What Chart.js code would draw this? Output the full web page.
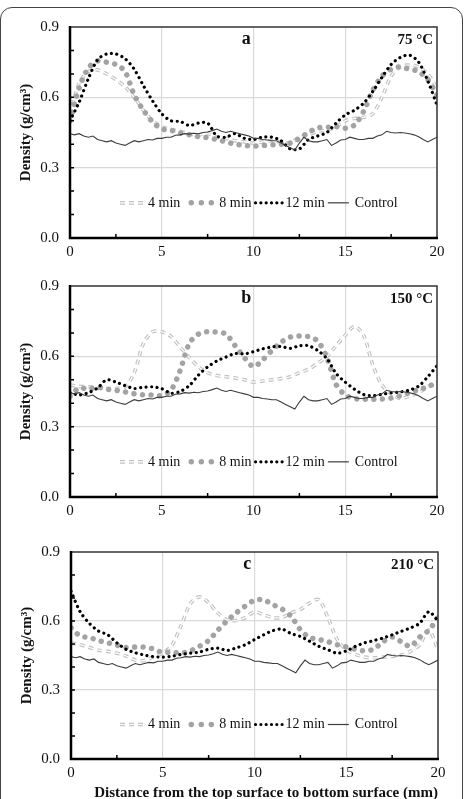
<!DOCTYPE html>
<html>
<head>
<meta charset="utf-8">
<script src="https://cdn.jsdelivr.net/npm/chart.js@4.4.1/dist/chart.umd.min.js"></script>
<style>
  html, body { margin: 0; padding: 0; background: #fff; width: 465px; height: 799px; overflow: hidden; }
  #frame { position: absolute; left: 0; top: 7px; width: 461px; height: 840px; border: 1.5px solid #444; border-radius: 12px; }
  canvas { position: absolute; left: 0; }
</style>
</head>
<body>
<div id="frame"></div>
<canvas id="chartA" width="465" height="265" style="top:0px"></canvas>
<canvas id="chartB" width="465" height="265" style="top:259px"></canvas>
<canvas id="chartC" width="465" height="290" style="top:525px"></canvas>
<script>
// ==========================================
// Data (0.5 mm steps)
// ==========================================
const distance = [0, 0.5, 1, 1.5, 2, 2.5, 3, 3.5, 4, 4.5, 5, 5.5, 6, 6.5, 7, 7.5, 8, 8.5, 9, 9.5,
  10, 10.5, 11, 11.5, 12, 12.5, 13, 13.5, 14, 14.5, 15, 15.5, 16, 16.5, 17, 17.5, 18, 18.5, 19, 19.5, 20];

// control is measured finer (0.25 mm) and is the same curve in all three panels
const controlDistance = [0, 0.25, 0.5, 0.75, 1, 1.25, 1.5, 1.75, 2, 2.25, 2.5, 2.75, 3, 3.25, 3.5, 3.75, 4, 4.25, 4.5, 4.75,
  5, 5.25, 5.5, 5.75, 6, 6.25, 6.5, 6.75, 7, 7.25, 7.5, 7.75, 8, 8.25, 8.5, 8.75, 9, 9.25, 9.5, 9.75,
  10, 10.25, 10.5, 10.75, 11, 11.25, 11.5, 11.75, 12, 12.25, 12.5, 12.75, 13, 13.25, 13.5, 13.75, 14, 14.25, 14.5, 14.75,
  15, 15.25, 15.5, 15.75, 16, 16.25, 16.5, 16.75, 17, 17.25, 17.5, 17.75, 18, 18.25, 18.5, 18.75, 19, 19.25, 19.5, 19.75, 20];
const control = [0.445, 0.44, 0.445, 0.435, 0.43, 0.435, 0.42, 0.415, 0.41, 0.415, 0.405, 0.40, 0.395, 0.405, 0.415, 0.41, 0.415, 0.42, 0.418, 0.425,
  0.425, 0.43, 0.43, 0.438, 0.44, 0.445, 0.443, 0.447, 0.445, 0.45, 0.452, 0.458, 0.465, 0.455, 0.45, 0.455, 0.45, 0.445, 0.44, 0.435,
  0.425, 0.425, 0.42, 0.418, 0.415, 0.415, 0.405, 0.395, 0.385, 0.375, 0.405, 0.43, 0.415, 0.41, 0.41, 0.415, 0.42, 0.395, 0.405, 0.418,
  0.42, 0.43, 0.425, 0.42, 0.42, 0.425, 0.425, 0.435, 0.44, 0.455, 0.45, 0.448, 0.45, 0.448, 0.445, 0.44, 0.432, 0.42, 0.41, 0.42, 0.43];

// a - 75 °C
const a4 = [0.53, 0.66, 0.71, 0.717, 0.70, 0.675, 0.645, 0.60, 0.545, 0.50, 0.475, 0.463, 0.455, 0.445, 0.44, 0.445, 0.43, 0.425, 0.415, 0.41,
  0.405, 0.41, 0.415, 0.41, 0.405, 0.43, 0.44, 0.455, 0.46, 0.475, 0.50, 0.51, 0.515, 0.53, 0.60, 0.69, 0.73, 0.738, 0.73, 0.70, 0.64];
const a8 = [0.50, 0.64, 0.725, 0.755, 0.75, 0.74, 0.71, 0.61, 0.545, 0.495, 0.465, 0.46, 0.448, 0.44, 0.432, 0.428, 0.42, 0.41, 0.40, 0.395,
  0.392, 0.395, 0.397, 0.40, 0.405, 0.425, 0.45, 0.47, 0.472, 0.475, 0.468, 0.482, 0.54, 0.63, 0.69, 0.72, 0.73, 0.72, 0.71, 0.675, 0.61];
const a12 = [0.50, 0.58, 0.68, 0.76, 0.785, 0.785, 0.765, 0.72, 0.65, 0.585, 0.53, 0.50, 0.497, 0.48, 0.49, 0.49, 0.435, 0.43, 0.445, 0.425,
  0.42, 0.43, 0.43, 0.415, 0.38, 0.38, 0.42, 0.435, 0.45, 0.49, 0.525, 0.545, 0.575, 0.625, 0.685, 0.74, 0.77, 0.78, 0.75, 0.67, 0.567];

// b - 150 °C
const b4 = [0.478, 0.472, 0.47, 0.465, 0.463, 0.463, 0.47, 0.53, 0.655, 0.705, 0.705, 0.685, 0.64, 0.595, 0.555, 0.53, 0.518, 0.513, 0.508, 0.50,
  0.49, 0.495, 0.50, 0.505, 0.513, 0.53, 0.545, 0.57, 0.60, 0.645, 0.69, 0.727, 0.69, 0.563, 0.478, 0.44, 0.42, 0.43, 0.445, 0.47, 0.49];
const b8 = [0.43, 0.465, 0.46, 0.468, 0.46, 0.455, 0.448, 0.44, 0.436, 0.435, 0.433, 0.455, 0.54, 0.655, 0.695, 0.705, 0.703, 0.695, 0.645, 0.595,
  0.556, 0.585, 0.625, 0.66, 0.682, 0.687, 0.684, 0.665, 0.595, 0.48, 0.435, 0.42, 0.417, 0.417, 0.418, 0.422, 0.432, 0.445, 0.458, 0.47, 0.49];
const b12 = [0.445, 0.435, 0.445, 0.465, 0.50, 0.49, 0.475, 0.463, 0.468, 0.47, 0.462, 0.443, 0.45, 0.475, 0.52, 0.555, 0.58, 0.597, 0.612, 0.61,
  0.62, 0.632, 0.64, 0.642, 0.634, 0.645, 0.645, 0.625, 0.59, 0.527, 0.49, 0.46, 0.437, 0.432, 0.438, 0.444, 0.448, 0.456, 0.473, 0.513, 0.56];

// c - 210 °C
const c4 = [0.505, 0.497, 0.485, 0.473, 0.468, 0.46, 0.448, 0.43, 0.428, 0.445, 0.46, 0.495, 0.58, 0.675, 0.705, 0.68, 0.635, 0.605, 0.602, 0.615,
  0.64, 0.627, 0.615, 0.615, 0.635, 0.65, 0.678, 0.693, 0.615, 0.52, 0.475, 0.455, 0.443, 0.44, 0.443, 0.446, 0.452, 0.468, 0.497, 0.56, 0.475];
const c8 = [0.57, 0.535, 0.528, 0.515, 0.505, 0.495, 0.485, 0.487, 0.487, 0.478, 0.463, 0.465, 0.46, 0.47, 0.49, 0.515, 0.56, 0.60, 0.635, 0.665,
  0.69, 0.692, 0.671, 0.652, 0.62, 0.562, 0.528, 0.52, 0.51, 0.497, 0.487, 0.477, 0.47, 0.478, 0.51, 0.53, 0.51, 0.49, 0.53, 0.56, 0.615];
const c12 = [0.73, 0.64, 0.59, 0.556, 0.54, 0.505, 0.477, 0.462, 0.452, 0.445, 0.443, 0.447, 0.455, 0.46, 0.465, 0.477, 0.482, 0.472, 0.483, 0.497,
  0.519, 0.54, 0.558, 0.565, 0.545, 0.533, 0.512, 0.49, 0.475, 0.46, 0.47, 0.49, 0.505, 0.515, 0.526, 0.54, 0.555, 0.57, 0.59, 0.64, 0.60];

const xTicks = [0, 5, 10, 15, 20];
const yTicks = [0, 0.3, 0.6, 0.9];
const xMinor = [2.5, 7.5, 12.5, 17.5];
const yMinor = [0.1, 0.2, 0.3, 0.4, 0.5, 0.6, 0.7, 0.8];
const legendLabels = ['4 min', '8 min', '12 min', 'Control'];

const SERIF = '"Liberation Serif", "Times New Roman", serif';
const DASH4 = [5, 4];

// ==========================================
// Helpers
// ==========================================
function pts(xs, values) {
  return xs.map((d, i) => ({ x: d, y: values[i] }));
}

function strokeSample(ctx, x0, x1, y, color, width, dash, cap) {
  ctx.save();
  ctx.strokeStyle = color;
  ctx.lineWidth = width;
  ctx.setLineDash(dash);
  ctx.lineCap = cap;
  ctx.beginPath();
  ctx.moveTo(x0, y);
  ctx.lineTo(x1, y);
  ctx.stroke();
  ctx.restore();
}

// frame, minor ticks, panel letter, temperature, legend
const decorPlugin = {
  id: 'decor',
  afterDraw(chart) {
    const ctx = chart.ctx;
    const { left, right, top, bottom } = chart.chartArea;
    const xs = chart.scales.x, ys = chart.scales.y;
    const cfg = chart.options.plugins.decor;

    ctx.save();
    // frame
    ctx.strokeStyle = '#333';
    ctx.lineWidth = 1.5;
    ctx.beginPath();
    ctx.moveTo(left, top); ctx.lineTo(right, top); ctx.lineTo(right, bottom);
    ctx.stroke();
    ctx.strokeStyle = '#000';
    ctx.lineWidth = 2.5;
    ctx.beginPath();
    ctx.moveTo(left, top - 1); ctx.lineTo(left, bottom); ctx.lineTo(right + 1, bottom);
    ctx.stroke();

    // small inside ticks
    ctx.lineWidth = 1.5;
    ctx.beginPath();
    yMinor.forEach(v => {
      const py = ys.getPixelForValue(v);
      ctx.moveTo(left, py); ctx.lineTo(left + 4, py);
    });
    xMinor.forEach(v => {
      const px = xs.getPixelForValue(v);
      ctx.moveTo(px, bottom); ctx.lineTo(px, bottom - 4);
    });
    ctx.stroke();

    // panel letter + temperature
    ctx.fillStyle = '#111';
    ctx.textBaseline = 'middle';
    ctx.textAlign = 'center';
    ctx.font = 'bold 18px ' + SERIF;
    ctx.fillText(cfg.letter, xs.getPixelForValue(9.6), top + 12);
    ctx.textAlign = 'right';
    ctx.font = 'bold 15px ' + SERIF;
    ctx.fillText(cfg.temp, right - 4, top + 13);

    // legend
    const y = ys.getPixelForValue(0.15);
    ctx.font = '14px ' + SERIF;
    ctx.textAlign = 'left';
    let x = 120;
    strokeSample(ctx, x, x + 27, y, '#c3c3c3', 3.6, DASH4, 'butt');
    strokeSample(ctx, x, x + 27, y, '#fff', 1.2, DASH4, 'butt');
    x += 28;
    ctx.fillText(legendLabels[0], x, y);
    x += ctx.measureText(legendLabels[0]).width + 8;
    strokeSample(ctx, x + 3, x + 24, y, '#a3a3a3', 5.5, [0.01, 10], 'round');
    x += 31;
    ctx.fillText(legendLabels[1], x, y);
    x += ctx.measureText(legendLabels[1]).width + 2;
    strokeSample(ctx, x + 2, x + 29, y, '#000', 3.2, [0.01, 5.3], 'round');
    x += 32;
    ctx.fillText(legendLabels[2], x, y);
    x += ctx.measureText(legendLabels[2]).width + 3;
    strokeSample(ctx, x, x + 21, y, '#3c3c3c', 1.2, [], 'butt');
    x += 27;
    ctx.fillText(legendLabels[3], x, y);
    ctx.restore();
  }
};

// ==========================================
// Panel builder
// ==========================================
function makePanel(id, d4, d8, d12, letter, temp, o) {
  const common = { pointRadius: 0, fill: false, tension: 0.3 };
  return new Chart(document.getElementById(id), {
    type: 'line',
    data: {
      datasets: [
        { ...common, label: legendLabels[0], data: pts(distance, d4), borderColor: '#c3c3c3', borderWidth: 3.6, borderDash: DASH4, order: 5 },
        { ...common, label: '', data: pts(distance, d4), borderColor: '#ffffff', borderWidth: 1.2, borderDash: DASH4, order: 4 },
        { ...common, label: legendLabels[1], data: pts(distance, d8), borderColor: '#a3a3a3', borderWidth: 5.5, borderDash: [0.01, 8.5], borderCapStyle: 'round', order: 3 },
        { ...common, label: legendLabels[2], data: pts(distance, d12), borderColor: '#000000', borderWidth: 3.2, borderDash: [0.01, 5.5], borderCapStyle: 'round', order: 2 },
        { ...common, label: legendLabels[3], data: pts(controlDistance, control), borderColor: '#3c3c3c', borderWidth: 1.1, tension: 0, order: 1 }
      ]
    },
    options: {
      responsive: false,
      animation: false,
      events: [],
      layout: { padding: { top: 27, left: o.padLeft, right: o.padRight, bottom: o.padBottom } },
      plugins: {
        legend: { display: false },
        tooltip: { enabled: false },
        decor: { letter: letter, temp: temp }
      },
      scales: {
        x: {
          type: 'linear',
          min: 0,
          max: 20,
          afterBuildTicks: s => { s.ticks = xTicks.map(v => ({ value: v })); },
          afterFit: s => { s.height = o.xHeight; },
          grid: {
            color: c => (c.tick && (c.tick.value === 0 || c.tick.value === 20)) ? 'rgba(0,0,0,0)' : '#d9d9d9',
            lineWidth: 1.2,
            drawTicks: false
          },
          border: { display: false },
          ticks: { padding: 5, color: '#111', font: { family: SERIF, size: 15 }, maxRotation: 0, autoSkip: false },
          title: {
            display: o.showTitle,
            text: 'Distance from the top surface to bottom surface (mm)',
            align: 'end',
            color: '#111',
            font: { family: SERIF, size: 15, weight: 'bold' },
            padding: { top: 0, bottom: o.titlePad }
          }
        },
        y: {
          min: 0,
          max: 0.9,
          afterBuildTicks: s => { s.ticks = yTicks.map(v => ({ value: v })); },
          afterFit: s => { s.width = 70; },
          grid: {
            color: c => (c.tick && (c.tick.value === 0 || c.tick.value === 0.9)) ? 'rgba(0,0,0,0)' : '#d9d9d9',
            lineWidth: 1.2,
            drawTicks: false
          },
          border: { display: false },
          ticks: { padding: 11, color: '#111', font: { family: SERIF, size: 15 }, callback: v => Number(v).toFixed(1) },
          title: {
            display: true,
            text: 'Density (g/cm³)',
            color: '#111',
            font: { family: SERIF, size: 15, weight: 'bold' },
            padding: { top: 17, bottom: 0 }
          }
        }
      }
    },
    plugins: [decorPlugin]
  });
}

makePanel('chartA', a4, a8, a12, 'a', '75 °C', { padLeft: 0, padRight: 28, padBottom: 0, xHeight: 27, showTitle: false, titlePad: 0 });
makePanel('chartB', b4, b8, b12, 'b', '150 °C', { padLeft: 0, padRight: 28, padBottom: 0, xHeight: 27, showTitle: false, titlePad: 0 });
makePanel('chartC', c4, c8, c12, 'c', '210 °C', { padLeft: 1, padRight: 27, padBottom: 0, xHeight: 56, showTitle: true, titlePad: 13 });
</script>
</body>
</html>
